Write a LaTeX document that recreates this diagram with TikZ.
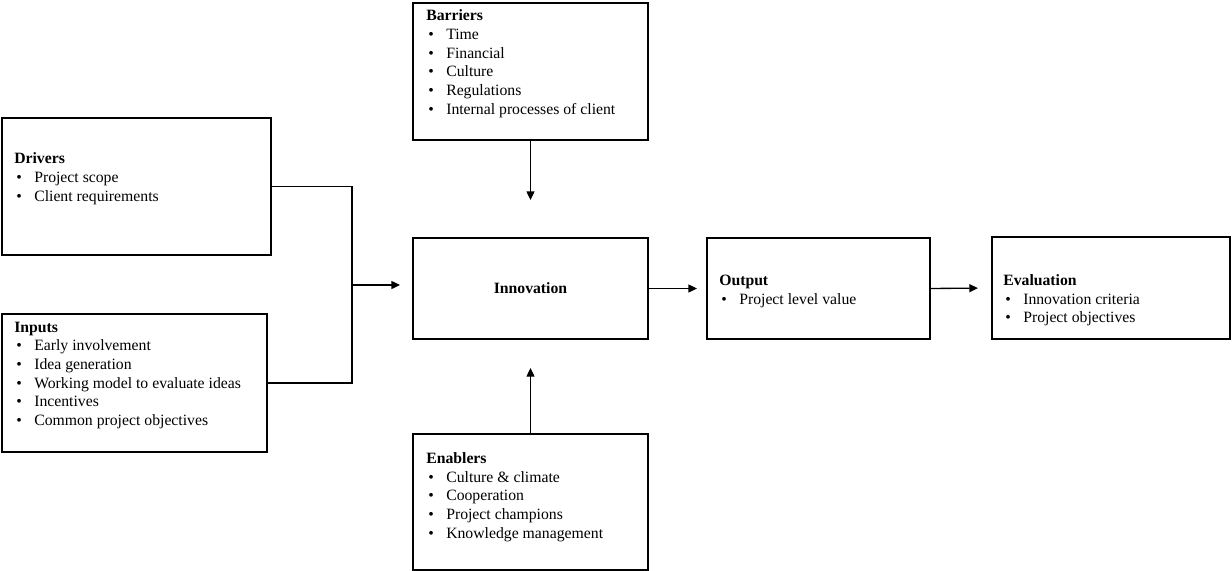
\documentclass[tikz,border=0pt]{standalone}
\usepackage{fontspec}
\setmainfont{Liberation Serif}
\usetikzlibrary{arrows.meta}

% one item line: bullet, then the item text
\newcommand{\itm}[1]{\hspace*{1.5pt}\makebox[13.5pt][l]{\textbullet}#1\strut}
\newcommand{\ttl}[1]{\textbf{#1}\strut}

\begin{document}
\begin{tikzpicture}[x=0.75pt,y=-0.75pt,
  box/.style={draw=black,line width=1pt,rectangle,inner sep=0pt,outer sep=0pt},
  txt/.style={anchor=north west,align=left,inner sep=0pt,
    font=\fontsize{11.8pt}{14pt}\selectfont},
  arr/.style={line width=1pt,-{Triangle[length=6.5pt,width=6pt]}},
  lnk/.style={line width=1pt}]
\useasboundingbox (0,0) rectangle (1232,571);

% boxes
\node[box,minimum width=201.75pt,minimum height=102.75pt] (drv) at (136.5,186.5) {};
\node[box,minimum width=198.75pt,minimum height=103.5pt] (inp) at (134.5,383) {};
\node[box,minimum width=176.25pt,minimum height=102.75pt] (bar) at (530.5,71.5) {};
\node[box,minimum width=176.25pt,minimum height=75.75pt,
  font=\fontsize{11.8pt}{14pt}\selectfont\bfseries] (inn) at (530.5,288.5) {Innovation};
\node[box,minimum width=176.25pt,minimum height=102pt] (enb) at (530.5,502) {};
\node[box,minimum width=167.25pt,minimum height=75.75pt] (out) at (818.5,288.5) {};
\node[box,minimum width=178.5pt,minimum height=76.5pt] (evl) at (1111,288) {};

% box texts
\node[txt] (drvt) at (14,150.5) {\ttl{Drivers}\\ \itm{Project scope}\\ \itm{Client requirements}};
\node[txt] (inpt) at (14,318.7) {\ttl{Inputs}\\ \itm{Early involvement}\\
  \itm{Idea generation}\\ \itm{Working model to evaluate ideas}\\ \itm{Incentives}\\
  \itm{Common project objectives}};
\node[txt] (bart) at (426,7.5) {\ttl{Barriers}\\ \itm{Time}\\ \itm{Financial}\\ \itm{Culture}\\
  \itm{Regulations}\\ \itm{Internal processes of client}};
\node[txt] (enbt) at (426,450) {\ttl{Enablers}\\ \itm{Culture \& climate}\\ \itm{Cooperation}\\
  \itm{Project champions}\\ \itm{Knowledge management}};
\node[txt] (outt) at (719,272) {\ttl{Output}\\ \itm{Project level value}};
\node[txt] (evlt) at (1003,272) {\ttl{Evaluation}\\ \itm{Innovation criteria}\\ \itm{Project objectives}};

% connectors
\coordinate (j) at (352,285);
\draw[lnk] (drv.east) -| (j);
\draw[lnk] (inp.east) -| (j);
\draw[arr,shorten >=9.75pt] (j) -- (j -| inn.west);
\draw[arr,shorten >=28.5pt] (bar.south) -- (inn.north);
\draw[arr,shorten >=21.75pt] (enb.north) -- (inn.south);
\draw[arr,shorten >=7.5pt] (inn.east) -- (out.west);
\draw[arr,shorten >=10.5pt] (out.east) -- (evl.west);
\end{tikzpicture}
\end{document}
